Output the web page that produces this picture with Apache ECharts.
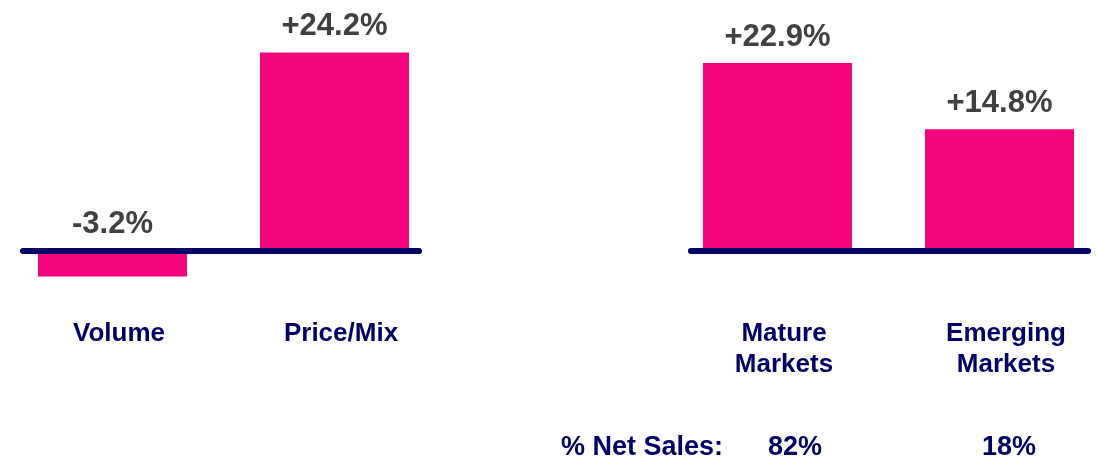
<!DOCTYPE html>
<html>
<head>
<meta charset="utf-8">
<script src="https://cdn.jsdelivr.net/npm/echarts@6/dist/echarts.min.js"></script>
<style>
  html, body { margin: 0; padding: 0; background: #fff; }
  #chart { width: 1096px; height: 460px; }
</style>
</head>
<body>
<div id="chart"></div>
<script>
const driverCategories = ['Volume', 'Price/Mix']
const driverValues = [-3.2, 24.2]
const marketCategories = ['Mature\nMarkets', 'Emerging\nMarkets']
const marketValues = [22.9, 14.8]
const netSalesLabel = '% Net Sales:'
const netSalesShares = ['82%', '18%']

const PINK = '#f5037f'
const NAVY = '#000066'
const GREY = '#404040'
const FONT = '"Liberation Sans", Arial, sans-serif'
const SLOTS = [1, 2]

function pct(v) {
  return (v > 0 ? '+' : '') + v.toFixed(1) + '%'
}

function catAxis(gridIndex, names, min, max) {
  return {
    type: 'value', gridIndex, min, max, z: 5,
    axisLine: { show: true, onZero: true, lineStyle: { color: NAVY, width: 6 } },
    axisTick: { show: false },
    splitLine: { show: false },
    axisLabel: {
      customValues: SLOTS, margin: 35, padding: [0, 0, 0, 13],
      color: NAVY, fontSize: 26, fontWeight: 'bold', fontFamily: FONT, lineHeight: 31,
      formatter: (v) => names[Math.round(v) - 1] || '',
    },
  }
}

function valAxis(gridIndex) {
  return {
    type: 'value', gridIndex, min: -4, max: 30, show: false,
    splitLine: { show: false },
  }
}

function barSeries(idx, values) {
  return {
    type: 'bar', xAxisIndex: idx, yAxisIndex: idx, barWidth: 149, z: 1,
    itemStyle: { color: PINK },
    label: {
      show: true, position: 'top', distance: 10,
      color: GREY, fontSize: 31, fontWeight: 'bold', fontFamily: FONT,
      formatter: (p) => pct(p.value[1]),
    },
    data: values.map((v, i) => [SLOTS[i], v]),
  }
}

const chart = echarts.init(document.getElementById('chart'), null, { renderer: 'canvas' })
chart.setOption({
  animation: false,
  title: {
    text: netSalesLabel, left: 561, top: 434, padding: 0,
    textStyle: { color: NAVY, fontSize: 27, fontWeight: 'bold', fontFamily: FONT },
  },
  grid: [
    { left: 23, width: 396, top: 5, height: 278, outerBoundsMode: 'none' },
    { left: 691, width: 397, top: 5, height: 278, outerBoundsMode: 'none' },
  ],
  xAxis: [
    catAxis(0, driverCategories, 0.5968, 2.3806),
    catAxis(1, marketCategories, 0.6104, 2.3986),
    {
      type: 'value', gridIndex: 1, min: 0.6104, max: 2.3986, position: 'bottom',
      axisLine: { show: false, onZero: false }, axisTick: { show: false }, splitLine: { show: false },
      axisLabel: {
        customValues: SLOTS, margin: 149,
        color: NAVY, fontSize: 27, fontWeight: 'bold', fontFamily: FONT, lineHeight: 31,
        formatter: (v) => {
          const i = Math.round(v) - 1
          return i === 0 ? '{a|' + netSalesShares[0] + '}' : '{b|' + netSalesShares[1] + '}'
        },
        rich: {
          a: { padding: [0, 0, 0, 35], color: NAVY, fontSize: 27, fontWeight: 'bold', fontFamily: FONT, lineHeight: 31 },
          b: { padding: [0, 0, 0, 19], color: NAVY, fontSize: 27, fontWeight: 'bold', fontFamily: FONT, lineHeight: 31 },
        },
      },
    },
  ],
  yAxis: [valAxis(0), valAxis(1)],
  series: [barSeries(0, driverValues), barSeries(1, marketValues)],
})
</script>
</body>
</html>
